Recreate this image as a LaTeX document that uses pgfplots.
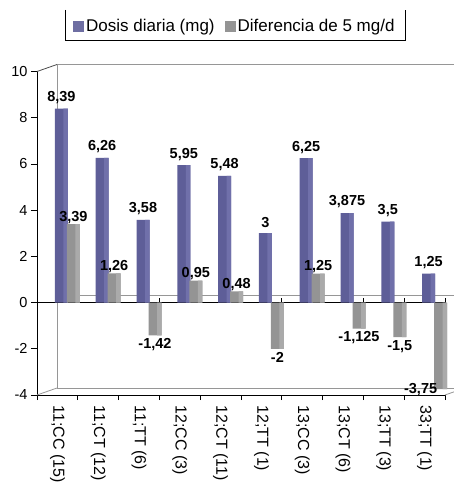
\documentclass[border=0pt]{standalone}
\usepackage{pgfplots}
\pgfplotsset{compat=1.18}
\usepackage{pgfplotstable}
\usepackage{fontspec}
\setmainfont{Liberation Sans}
\definecolor{serA}{RGB}{94,94,152}
\definecolor{serAside}{RGB}{112,112,170}
\definecolor{serB}{RGB}{148,148,148}
\definecolor{serBside}{RGB}{170,170,170}
\definecolor{wall}{RGB}{150,150,150}

\pgfplotstableread{
x y lab
0 8.39 8,39
1 6.26 6,26
2 3.58 3,58
3 5.95 5,95
4 5.48 5,48
5 3 3
6 6.25 6,25
7 3.875 3,875
8 3.5 3,5
9 1.25 1,25
}\tblA

\pgfplotstableread{
x y
0 3.39
1 1.26
2 -1.42
3 0.95
4 0.48
5 -2
6 1.25
7 -1.125
8 -1.5
9 -3.75
}\tblB

\pgfplotstableread{
x y lab
0 3.39 3,39
1 1.26 1,26
3 0.95 0,95
4 0.48 0,48
6 1.25 1,25
}\tblBpos

\pgfplotstableread{
x y lab
2 -1.42 -1,42
5 -2 -2
7 -1.125 -1,125
8 -1.5 -1,5
}\tblBneg

\pgfplotstableread{
x y lab
9 -3.75 -3,75
}\tblBlast

\begin{document}
\begin{tikzpicture}
\path[use as bounding box] (-37pt,-87pt) rectangle (416pt,395pt);
\begin{axis}[
  at={(0pt,0pt)}, anchor=south west, scale only axis,
  width=408pt, height=323.5pt,
  xmin=-0.5, xmax=9.5, ymin=-4, ymax=10,
  clip=false,
  axis x line*=bottom, axis y line*=left,
  axis line style={black, line width=0.8pt},
  tick align=outside,
  xtick={0,...,9},
  xticklabels={{11;CC (15)},{11;CT (12)},{11;TT (6)},{12;CC (3)},{12;CT (11)},{12;TT (1)},{13;CC (3)},{13;CT (6)},{13;TT (3)},{33;TT (1)}},
  major x tick style={draw=none},
  minor xtick={-0.5,0.5,...,9.5},
  minor x tick style={black, line width=0.8pt},
  minor tick length=5pt,
  ytick={-4,-2,0,2,4,6,8,10},
  yticklabels={-4,-2,0,2,4,6,8,10},
  major tick length=6pt,
  y tick style={black, line width=0.8pt},
  xticklabel style={rotate=-90, anchor=west, font=\fontsize{16}{18}\selectfont, xshift=1pt},
  yticklabel style={font=\fontsize{14.5}{16}\selectfont},
  legend style={at={(axis description cs:0.485,1.139)}, anchor=center, draw=none, fill=none,
    font=\fontsize{17}{19}\selectfont, legend columns=2,
    /tikz/every even column/.append style={column sep=8pt}},
]
% back walls
\draw[wall, line width=0.8pt] ([shift={(20pt,7pt)}]axis cs:-0.5,10) -- ([shift={(60pt,7pt)}]axis cs:9.5,10);
\draw[wall, line width=0.8pt] ([shift={(20pt,7pt)}]axis cs:-0.5,10) -- ([shift={(20pt,7pt)}]axis cs:-0.5,-4);
\draw[wall, line width=0.8pt] ([shift={(20pt,7pt)}]axis cs:-0.5,-4) -- ([shift={(60pt,7pt)}]axis cs:9.5,-4);
\draw[wall, line width=0.8pt] ([shift={(20pt,7pt)}]axis cs:-0.5,0) -- ([shift={(60pt,7pt)}]axis cs:9.5,0);
\draw[black!70, line width=0.8pt] (axis cs:-0.5,10) -- ([shift={(20pt,7pt)}]axis cs:-0.5,10);
\draw[wall, line width=0.8pt] (axis cs:-0.5,-4) -- ([shift={(20pt,7pt)}]axis cs:-0.5,-4);
\draw[wall, line width=0.8pt] (axis cs:9.5,-4) -- ([shift={(20pt,7pt)}]axis cs:9.5,-4);
% front zero line
\draw[black, line width=0.8pt] (axis cs:-0.5,0) -- (axis cs:9.5,0);
\pgfplotsinvokeforeach{-0.5,0.5,...,9.5}{\draw[black, line width=0.8pt] (axis cs:#1,0) -- ([yshift=5pt]axis cs:#1,0);}

\addplot[ybar, bar width=13pt, bar shift=4pt, fill=serA, draw=none,
  legend image code/.code={\fill[serA!90!white] (0pt,-5.5pt) rectangle (11pt,5.5pt);}]
  table[x=x,y=y]{\tblA};
\addlegendentry{Dosis diaria (mg)}
\addplot[forget plot, ybar, bar width=4.5pt, bar shift=8.25pt, fill=serAside, draw=none]
  table[x=x,y=y]{\tblA};
\addplot[ybar, bar width=13pt, bar shift=16pt, fill=serB, draw=none,
  legend image code/.code={\fill[serB] (0pt,-5.5pt) rectangle (11pt,5.5pt);}]
  table[x=x,y=y]{\tblB};
\addlegendentry{Diferencia de 5 mg/d}
\addplot[forget plot, ybar, bar width=4.5pt, bar shift=20.25pt, fill=serBside, draw=none]
  table[x=x,y=y]{\tblB};

% labels
\addplot[forget plot, only marks, mark=none, xshift=4pt, nodes near coords, point meta=explicit symbolic,
  every node near coord/.append style={anchor=center, yshift=11pt, font=\fontsize{14.5}{16}\selectfont\bfseries}]
  table[x=x,y=y,meta=lab]{\tblA};
\addplot[forget plot, only marks, mark=none, xshift=16pt, nodes near coords, point meta=explicit symbolic,
  every node near coord/.append style={anchor=center, yshift=7pt, font=\fontsize{14.5}{16}\selectfont\bfseries}]
  table[x=x,y=y,meta=lab]{\tblBpos};
\addplot[forget plot, only marks, mark=none, xshift=16pt, nodes near coords, point meta=explicit symbolic,
  every node near coord/.append style={anchor=center, yshift=-9pt, font=\fontsize{14.5}{16}\selectfont\bfseries}]
  table[x=x,y=y,meta=lab]{\tblBneg};
\addplot[forget plot, only marks, mark=none, xshift=-4pt, nodes near coords, point meta=explicit symbolic,
  every node near coord/.append style={anchor=center, yshift=0pt, font=\fontsize{14.5}{16}\selectfont\bfseries}]
  table[x=x,y=y,meta=lab]{\tblBlast};
\end{axis}
\draw[black, line width=0.8pt] (28pt,385pt) -- (28pt,355pt) -- (368pt,355pt) -- (368pt,385pt);
\end{tikzpicture}
\end{document}
